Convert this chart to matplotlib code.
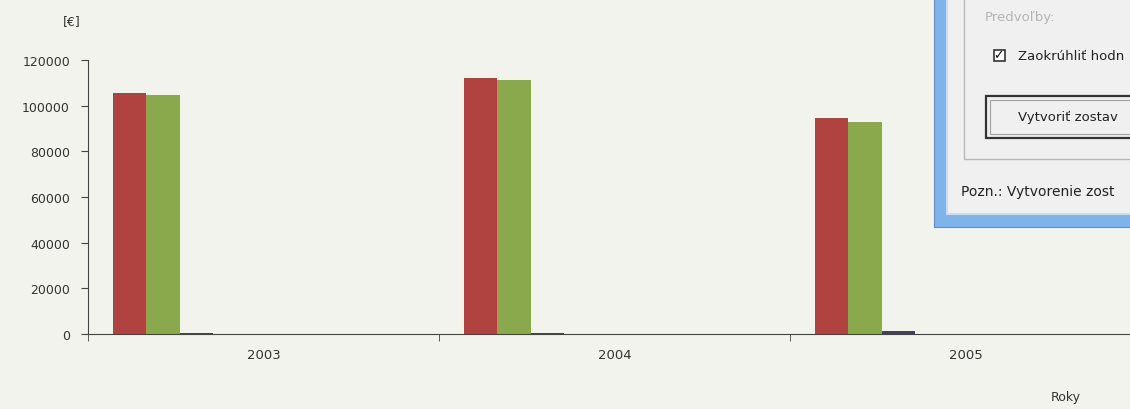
import numpy as np
import matplotlib
matplotlib.use("Agg")
import matplotlib.pyplot as plt
from matplotlib.patches import Rectangle

years = ["2003", "2004", "2005"]
# nine series per year, only three have visible values
series_a = [105500, 112100, 94600]
series_b = [104700, 111200, 92800]
series_c = [500, 600, 1200]
series_rest = [0, 0, 0]
series = [series_a, series_b, series_c] + [series_rest] * 6
colors = ["#b0433f", "#8aa84c", "#45405e"] + ["#4f81bd"] * 6
yticks = [0, 20000, 40000, 60000, 80000, 100000, 120000]

bg = "#f3f3ee"
ink = "#333333"
fig = plt.figure(figsize=(11.3, 4.1), dpi=100, facecolor=bg)
ax = fig.add_axes([88 / 1130, 75 / 410, 1 - 88 / 1130, 274 / 410], facecolor=bg)

width = 0.0955
x = np.arange(len(years))
for i, (vals, c) in enumerate(zip(series, colors)):
    ax.bar(x + 0.07 + i * width, vals, width, align="edge", color=c, linewidth=0)

ax.set_yticks(yticks)
ax.set_yticklabels([str(v) for v in yticks])
ax.set_xticks(x + 0.5)
ax.set_xticklabels(years)
ax.set_xticks(np.arange(0, 4), minor=True)
ax.set_xlim(0, (1130 - 88) / 351)
ax.set_ylim(0, 120000)
for s in ["top", "right"]:
    ax.spines[s].set_visible(False)
for s in ["left", "bottom"]:
    ax.spines[s].set_color("#444444")
ax.tick_params(axis="y", direction="out", length=5, color="#444444",
               labelsize=9, labelcolor=ink, pad=8)
ax.tick_params(axis="x", which="major", length=0, labelsize=9.5,
               labelcolor=ink, pad=10)
ax.tick_params(axis="x", which="minor", direction="out", length=5, color="#444444")

fig.text(72 / 1130, 1 - 22 / 410, "[€]", fontsize=9, color=ink, ha="center", va="center")
fig.text(1066 / 1130, 1 - 398 / 410, "Roky", fontsize=9, color=ink, ha="center", va="center")

# dialog window overlapping the chart (top right), cut off by the picture edge
W, H = 1130, 410
def px_rect(x0, y0, x1, y1, **kw):
    fig.patches.append(Rectangle((x0 / W, 1 - y1 / H), (x1 - x0) / W, (y1 - y0) / H,
                                 transform=fig.transFigure, figure=fig, **kw))

px_rect(934, -5, 1140, 228, facecolor="#7fb4ea", edgecolor="#5a8fc8", linewidth=0.8)
px_rect(947, -5, 1140, 215, facecolor="#f0f0f0", edgecolor="#c9dcf0", linewidth=1.5)
px_rect(964, -5, 1140, 160, facecolor="none", edgecolor="#b8b8b8", linewidth=1)
px_rect(994, 51, 1005, 62, facecolor="#ffffff", edgecolor="#333333", linewidth=1.2)
px_rect(986, 97, 1140, 139, facecolor="#f0f0f0", edgecolor="#333333", linewidth=1.6)
px_rect(990, 101, 1140, 135, facecolor="none", edgecolor="#a0a0a0", linewidth=0.8)

fs = 9.5
fig.text(985 / W, 1 - 17 / H, "Predvoľby:", fontsize=fs, color="#b5b5b5", va="center")
fig.text(993.5 / W, 1 - 56 / H, "✓", fontsize=9, color="#111111", va="center", fontweight="bold")
fig.text(1018 / W, 1 - 57 / H, "Zaokrúhliť hodn", fontsize=fs, color="#222222", va="center")
fig.text(1018 / W, 1 - 117 / H, "Vytvoriť zostav", fontsize=fs, color="#222222", va="center")
fig.text(961 / W, 1 - 192 / H, "Pozn.: Vytvorenie zost", fontsize=10, color="#222222", va="center")

fig.savefig("out.png", dpi=100, facecolor=bg)
